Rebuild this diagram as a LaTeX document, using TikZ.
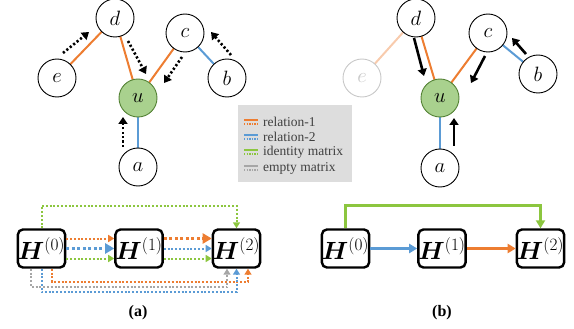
\documentclass[tikz,border=0pt]{standalone}
\usepackage{fontspec}
\setmainfont{Liberation Serif}
\usepackage{amsmath,bm}
\usetikzlibrary{arrows.meta,backgrounds}
\definecolor{rone}{HTML}{ED7D31}
\definecolor{rtwo}{HTML}{5B9BD5}
\definecolor{idm}{HTML}{8CC63F}
\definecolor{emp}{HTML}{A6A6A6}
\definecolor{ufill}{HTML}{A9D18E}
\definecolor{uedge}{HTML}{548235}
\definecolor{fadeo}{HTML}{F8CBAD}
\definecolor{fadeg}{HTML}{C8C8C8}
\definecolor{legbg}{HTML}{DDDDDD}
\begin{document}
\begin{tikzpicture}[x=1pt,y=-1pt,
  gnode/.style={circle,draw=black,line width=0.9pt,fill=white,minimum size=38pt,inner sep=0pt,font=\fontsize{20}{22}\selectfont},
  unode/.style={gnode,fill=ufill,draw=uedge},
  enode/.style={gnode,draw=fadeg,text=fadeg},
  edge1/.style={rone,line width=2pt},
  edge2/.style={rtwo,line width=2pt},
  dotarr/.style={black,line width=2.6pt,dash pattern=on 2.2pt off 2.2pt,-{Triangle[length=7pt,width=9pt]}},
  solarr/.style={black,line width=2.6pt,-{Triangle[length=7pt,width=9pt]}},
  hbox/.style={draw=black,line width=2.4pt,rounded corners=5pt,minimum width=47pt,minimum height=38pt,inner sep=0pt,fill=white,font=\fontsize{23}{25}\selectfont},
  thindot/.style={line width=2pt,dash pattern=on 2pt off 1.8pt,-{Triangle[length=6pt,width=7pt]}},
  thickdot/.style={line width=3.4pt,dash pattern=on 3pt off 2.5pt,-{Triangle[length=9pt,width=10pt]}},
  solidarr/.style={line width=3pt,-{Triangle[length=8pt,width=9pt]}},
  legtext/.style={anchor=west,inner sep=0pt,text=black!75,font=\fontsize{13.5}{14}\selectfont},
  captext/.style={font=\fontsize{16}{18}\selectfont\bfseries}
]
\useasboundingbox (0,0) rectangle (574,329);
% ---------- left graph (a) ----------
\node[gnode] (dL) at (115,18) {$d$};
\node[gnode] (cL) at (185,33) {$c$};
\node[gnode] (eL) at (57,78) {$e$};
\node[gnode] (bL) at (227,78) {$b$};
\node[unode] (uL) at (138,98) {$u$};
\node[gnode] (aL) at (138,167) {$a$};
\begin{scope}[on background layer]
\draw[edge1] (dL.center) -- (eL.center);
\draw[edge1] (dL.center) -- (uL.center);
\draw[edge1] (cL.center) -- (uL.center);
\draw[edge2] (cL.center) -- (bL.center);
\draw[edge2] (uL.center) -- (aL.center);
\end{scope}
\coordinate (ae1) at (63,53); \coordinate (ae2) at (89,32);
\coordinate (ad1) at (128,41); \coordinate (ad2) at (146,74);
\coordinate (ac1) at (182,57); \coordinate (ac2) at (164,83);
\coordinate (ab1) at (231,55); \coordinate (ab2) at (211,32);
\coordinate (aa1) at (123,147); \coordinate (aa2) at (123,117);
\draw[dotarr] (ae1) -- (ae2);
\draw[dotarr] (ad1) -- (ad2);
\draw[dotarr] (ac1) -- (ac2);
\draw[dotarr] (ab1) -- (ab2);
\draw[dotarr] (aa1) -- (aa2);
% ---------- right graph (b) ----------
\node[gnode] (dR) at (416,18) {$d$};
\node[gnode] (cR) at (488,33) {$c$};
\node[enode] (eR) at (362,78) {$e$};
\node[gnode] (bR) at (538,74) {$b$};
\node[unode] (uR) at (440,98) {$u$};
\node[gnode] (aR) at (440,168) {$a$};
\begin{scope}[on background layer]
\draw[fadeo,line width=2pt] (dR.center) -- (eR.center);
\draw[edge1] (dR.center) -- (uR.center);
\draw[edge1] (cR.center) -- (uR.center);
\draw[edge2] (cR.center) -- (bR.center);
\draw[edge2] (uR.center) -- (aR.center);
\end{scope}
\coordinate (bd1) at (414,38); \coordinate (bd2) at (424,76);
\coordinate (bc1) at (485,56); \coordinate (bc2) at (471,83);
\coordinate (bb1) at (526,54); \coordinate (bb2) at (512,38);
\coordinate (ba1) at (454,146); \coordinate (ba2) at (454,118);
\draw[solarr] (bd1) -- (bd2);
\draw[solarr] (bc1) -- (bc2);
\draw[solarr] (bb1) -- (bb2);
\draw[solarr] (ba1) -- (ba2);
% ---------- legend ----------
\node[fill=legbg,minimum width=114pt,minimum height=77pt,inner sep=0pt] (leg) at (295,143.5) {};
\foreach \y/\c/\t in {122/rone/relation-1,137/rtwo/relation-2,152/idm/identity matrix,168/emp/empty matrix}{
  \draw[\c,line width=1.3pt] (244,\y-2) -- (258,\y-2);
  \draw[\c,line width=1.3pt,dash pattern=on 1.3pt off 1.3pt] (244,\y+2) -- (258,\y+2);
  \node[legtext] at (263,\y) {\t};
}
% ---------- bottom (a) ----------
\node[hbox] (H0a) at (41.5,248.5) {$\bm{H}^{(0)}$};
\node[hbox] (H1a) at (139,248.5) {$\bm{H}^{(1)}$};
\node[hbox] (H2a) at (236.5,248.5) {$\bm{H}^{(2)}$};
\draw[idm,thindot] (H0a.north) -- (H0a.north |- 0,206) -| (H2a.north);
\draw[rone,thindot] ([yshift=10pt]H0a.east) -- ([yshift=10pt]H1a.west);
\draw[rtwo,thickdot] (H0a.east) -- (H1a.west);
\draw[idm,thindot] ([yshift=-10pt]H0a.east) -- ([yshift=-10pt]H1a.west);
\draw[rone,thickdot] ([yshift=10pt]H1a.east) -- ([yshift=10pt]H2a.west);
\draw[rtwo,thindot] (H1a.east) -- (H2a.west);
\draw[idm,thindot] ([yshift=-10pt]H1a.east) -- ([yshift=-10pt]H2a.west);
\draw[rone,thindot] ([xshift=10.5pt]H0a.south) -- ([xshift=10.5pt]H0a.south |- 0,282) -| ([xshift=11.5pt]H2a.south);
\draw[emp,thindot] ([xshift=-10.5pt]H0a.south) -- ([xshift=-10.5pt]H0a.south |- 0,287) -| ([xshift=-9.5pt]H2a.south);
\draw[rtwo,thindot] (H0a.south) -- (H0a.south |- 0,292) -| (H2a.south);
\node[captext] (capa) at (138,313) {(a)};
% ---------- bottom (b) ----------
\node[hbox] (H0b) at (345.5,248.5) {$\bm{H}^{(0)}$};
\node[hbox] (H1b) at (442,248.5) {$\bm{H}^{(1)}$};
\node[hbox] (H2b) at (540.5,248.5) {$\bm{H}^{(2)}$};
\draw[idm,solidarr] (H0b.north) -- (H0b.north |- 0,205) -| (H2b.north);
\draw[rtwo,solidarr] (H0b.east) -- (H1b.west);
\draw[rone,solidarr] (H1b.east) -- (H2b.west);
\node[captext] (capb) at (442,313) {(b)};
\end{tikzpicture}
\end{document}
